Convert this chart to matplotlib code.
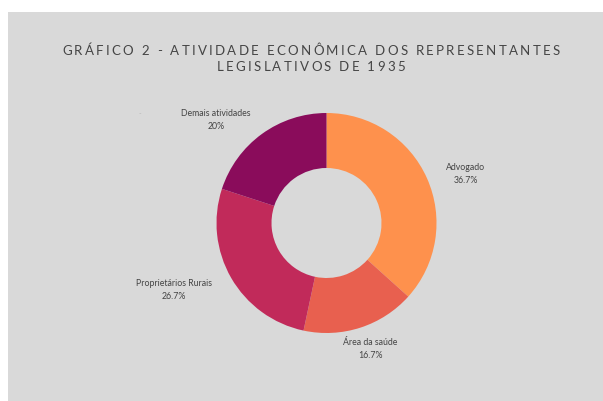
import matplotlib
matplotlib.use("Agg")
import matplotlib.pyplot as plt
from matplotlib.patches import Rectangle
from matplotlib.font_manager import FontProperties

# Data
categories = ["Advogado", "Área da saúde", "Proprietários Rurais", "Demais atividades"]
shares = [36.7, 16.7, 26.7, 20.0]
colors = ["#FE914D", "#E8604F", "#C12A5A", "#8A0C5B"]
title_lines = ["GRÁFICO 2 - ATIVIDADE ECONÔMICA DOS REPRESENTANTES",
               "LEGISLATIVOS DE 1935"]

BG = "#D9D9D9"
W, H = 603, 401
fig = plt.figure(figsize=(W / 100, H / 100), dpi=100, facecolor="white")
ax = fig.add_axes([0, 0, 1, 1])
ax.patch.set_visible(False)

# gray panel
ax.add_patch(Rectangle((8, 0), W - 8, H - 12, facecolor=BG,
                       edgecolor="none", zorder=0.5))

cx, cy, R = 326.5, H - 223, 110
wedges, _ = ax.pie(shares, colors=colors, startangle=90, counterclock=False,
                   center=(cx, cy), radius=R,
                   wedgeprops=dict(width=R * 0.5, linewidth=0))
for w in wedges:
    w.set_zorder(2)

ax.set_xlim(0, W)
ax.set_ylim(0, H)
ax.set_aspect("equal")
ax.axis("off")

def fmt(v):
    s = f"{v:.1f}"
    return (s[:-2] if s.endswith(".0") else s) + "%"

label_pos = [(466, 174), (370, 349), (174, 290), (216, 120)]
for name, v, (lx, ly) in zip(categories, shares, label_pos):
    ax.text(lx, H - ly, f"{name}\n{fmt(v)}", ha="center", va="center",
            fontsize=6.3, family="Lato", color="#444444", linespacing=1.55,
            zorder=3)

ax.text(140, H - 114, "-", ha="center", va="center", fontsize=5,
        color="#b8b8b8", family="Lato", zorder=3)

# letter-spaced title
fig.canvas.draw()
renderer = fig.canvas.get_renderer()
prop = FontProperties(family="Lato", size=9.5)
title_cx = 311

def spaced(text, y_px, spacing):
    widths = []
    for ch in text:
        w, h, d = renderer.get_text_width_height_descent(ch, prop, ismath=False)
        if ch == " ":
            w = prop.get_size_in_points() * 100 / 72 * 0.26
        widths.append(w)
    total = sum(widths) + spacing * (len(text) - 1)
    x = title_cx - total / 2
    for ch, w in zip(text, widths):
        ax.text(x, H - y_px, ch, ha="left", va="center", fontproperties=prop,
                color="#454545", zorder=3)
        x += w + spacing

spaced(title_lines[0], 51, 2.3)
spaced(title_lines[1], 67, 2.3)

fig.savefig("out.png", dpi=100, facecolor="white")
